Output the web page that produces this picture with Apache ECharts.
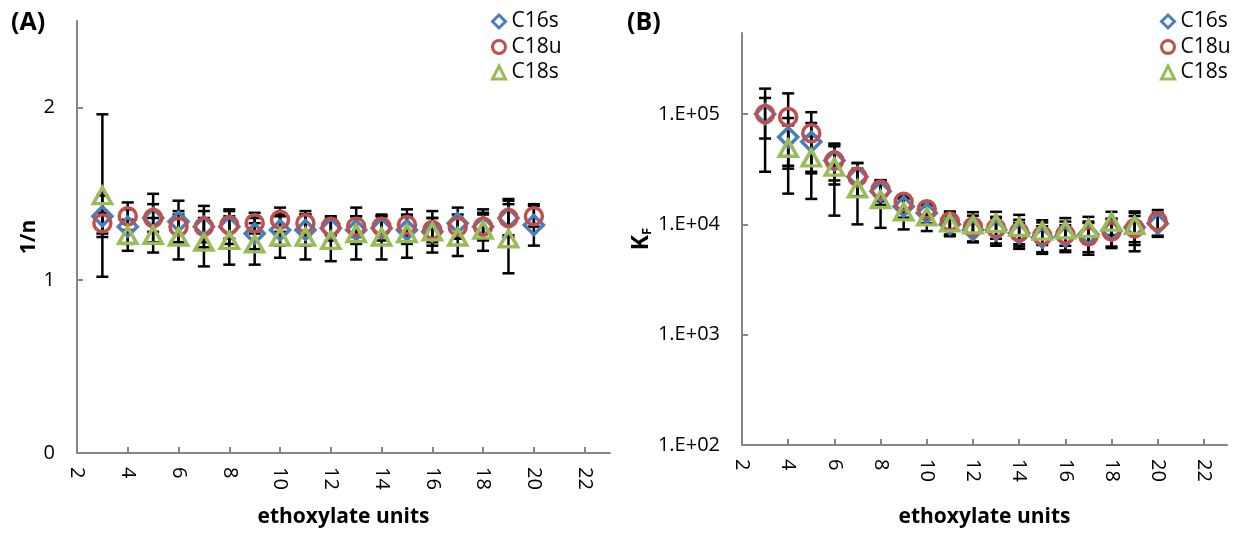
<!DOCTYPE html>
<html><head><meta charset="utf-8">
<script src="https://cdn.jsdelivr.net/npm/echarts@6/dist/echarts.min.js"></script>
<style>html,body{margin:0;padding:0;background:#fff}#c{width:1238px;height:533px}</style>
</head><body><div id="c"></div>
<script>
// ---------- data ----------
const units      = [3,4,5,6,7,8,9,10,11,12,13,14,15,16,17,18,19,20];
const unitsC18sA = [3,4,5,6,7,8,9,10,11,12,13,14,15,16,17,18,19];
const unitsC18sB = [4,5,6,7,8,9,10,11,12,13,14,15,16,17,18,19];
const xTicks     = [2,4,6,8,10,12,14,16,18,20,22];
const invnTicks  = [0,1,2];
const kfTicks    = [100,1000,10000,100000];

// Panel A: 1/n
const invnC16s    = [1.37,1.31,1.36,1.34,1.31,1.31,1.27,1.29,1.29,1.30,1.29,1.30,1.29,1.28,1.33,1.31,1.36,1.32];
const invnC16sErr = [0.12,0.10,0.14,0.12,0.12,0.10,0.09,0.09,0.09,0.07,0.08,0.07,0.08,0.08,0.09,0.08,0.11,0.12];
const invnC18u    = [1.33,1.37,1.36,1.31,1.31,1.32,1.33,1.35,1.33,1.31,1.31,1.31,1.32,1.29,1.31,1.31,1.36,1.37];
const invnC18uErr = [0.06,0.08,0.08,0.09,0.09,0.08,0.06,0.07,0.07,0.05,0.06,0.06,0.06,0.07,0.07,0.07,0.10,0.06];
const invnC18s    = [1.49,1.26,1.26,1.25,1.22,1.23,1.21,1.25,1.25,1.23,1.27,1.25,1.27,1.28,1.25,1.29,1.24];
const invnC18sErr = [0.47,0.09,0.10,0.13,0.14,0.14,0.12,0.12,0.13,0.12,0.15,0.13,0.14,0.12,0.11,0.12,0.20];

// Panel B: KF
const kfC16s    = [100000,62000,56000,38000,27000,20000,14500,12700,10000,8900,8900,8300,7600,7800,8100,8800,9400,10200];
const kfC16sErr = [40000,30000,27000,13000,9000,5000,3000,2500,2000,2000,2500,2000,2000,2000,2500,2500,2500,2500];
const kfC18u    = [100000,94000,67000,38000,27000,20700,16000,13700,10600,9500,9200,8500,7900,8100,7800,8600,9200,10700];
const kfC18uErr = [70000,60000,37000,15000,9000,4500,2000,1500,2500,2500,2500,2500,2500,2500,2500,2500,3500,2800];
const kfC18s    = [49000,40000,33000,21000,16800,13000,11700,10300,9900,10200,9400,8700,8900,9200,10500,9800];
const kfC18sErr = [30000,23000,21000,11000,7500,4000,3000,2500,3000,2800,2800,2200,2500,2500,2500,3300];

// ---------- chart ----------
const FONT = '"Open Sans", "DejaVu Sans", sans-serif';
const BLUE = '#4A7EBB', RED = '#C0504D', GREEN = '#9BBB59';
const AXIS = '#868686';

function pts(xs, ys) { return xs.map((x, i) => [x, ys[i]]); }
function errPts(xs, ys, es) { return xs.map((x, i) => [x, ys[i], es[i]]); }

function renderErr(params, api) {
  const x = api.value(0), y = api.value(1), e = api.value(2);
  const top = api.coord([x, y + e]);
  const bot = api.coord([x, y - e]);
  const hw = 6;
  const style = { stroke: '#000', lineWidth: 2.5, fill: null };
  return { type: 'group', children: [
    { type: 'line', shape: { x1: top[0], y1: top[1], x2: bot[0], y2: bot[1] }, style },
    { type: 'line', shape: { x1: top[0] - hw, y1: top[1], x2: top[0] + hw, y2: top[1] }, style },
    { type: 'line', shape: { x1: bot[0] - hw, y1: bot[1], x2: bot[0] + hw, y2: bot[1] }, style }
  ]};
}

function errSeries(idx, data, name) {
  return { type: 'custom', name, xAxisIndex: idx, yAxisIndex: idx, renderItem: renderErr,
           data, encode: { x: 0, y: 1 }, z: 1, silent: true, clip: false };
}
function markSeries(idx, name, data, symbol, size, color) {
  return { type: 'scatter', name, xAxisIndex: idx, yAxisIndex: idx, data, symbol, symbolSize: size, z: 3,
           itemStyle: { color: 'rgba(0,0,0,0)', borderColor: color, borderWidth: 3.5, opacity: 1 },
           emphasis: { disabled: true } };
}

function xAxisCfg(idx, gap) {
  return { type: 'value', gridIndex: idx, min: 2, max: 23,
    axisLine: { show: true, onZero: false, lineStyle: { color: AXIS, width: 2 } },
    axisTick: { show: true, inside: true, length: 6, lineStyle: { color: AXIS, width: 2 }, customValues: xTicks },
    axisLabel: { customValues: xTicks, rotate: -90, fontSize: 20, color: '#000', fontFamily: FONT, margin: 14 },
    splitLine: { show: false },
    name: 'ethoxylate units', nameLocation: 'middle', nameGap: gap,
    nameTextStyle: { fontSize: 21, fontWeight: 'bold', color: '#000', fontFamily: FONT } };
}

const legendData = [
  { name: 'C16s', icon: 'diamond',  itemStyle: { color: 'rgba(0,0,0,0)', borderColor: BLUE,  borderWidth: 3 } },
  { name: 'C18u', icon: 'circle',   itemStyle: { color: 'rgba(0,0,0,0)', borderColor: RED,   borderWidth: 3 } },
  { name: 'C18s', icon: 'triangle', itemStyle: { color: 'rgba(0,0,0,0)', borderColor: GREEN, borderWidth: 3 } }
];
function legendCfg(left) {
  return { data: legendData, orient: 'vertical', left, top: 11, padding: 0, itemGap: 4.5,
    itemWidth: 13, itemHeight: 13, selectedMode: false,
    textStyle: { fontSize: 21, color: '#000', fontFamily: FONT, lineHeight: 20, padding: [0, 0, 0, 1] } };
}

const option = {
  animation: false,
  textStyle: { fontFamily: FONT },
  grid: [
    { left: 77, top: 21, width: 533, height: 432, outerBoundsMode: 'none', containLabel: false },
    { left: 742, top: 33, width: 485, height: 412, outerBoundsMode: 'none', containLabel: false }
  ],
  xAxis: [ xAxisCfg(0, 54), xAxisCfg(1, 62) ],
  yAxis: [
    { type: 'value', gridIndex: 0, min: 0, max: 2.5,
      axisLine: { show: true, onZero: false, lineStyle: { color: AXIS, width: 2 } },
      axisTick: { show: true, inside: true, length: 6, lineStyle: { color: AXIS, width: 2 }, customValues: invnTicks },
      axisLabel: { customValues: invnTicks, fontSize: 20, color: '#000', fontFamily: FONT, margin: 22 },
      splitLine: { show: false },
      name: '1/n', nameLocation: 'middle', nameGap: 35,
      nameTextStyle: { fontSize: 21, fontWeight: 'bold', color: '#000', fontFamily: FONT } },
    { type: 'log', logBase: 10, gridIndex: 1, min: 100, max: 543000,
      axisLine: { show: true, onZero: false, lineStyle: { color: AXIS, width: 2 } },
      axisTick: { show: true, inside: true, length: 6, lineStyle: { color: AXIS, width: 2 }, customValues: kfTicks },
      axisLabel: { customValues: kfTicks, fontSize: 20, color: '#000', fontFamily: FONT, margin: 22,
        formatter: v => '1.E+' + String(Math.round(Math.log10(v))).padStart(2, '0') },
      splitLine: { show: false }, minorTick: { show: false },
      name: '{k|K}{f|F}', nameLocation: 'middle', nameGap: 78,
      nameTextStyle: { color: '#000', fontFamily: FONT,
        rich: { k: { fontSize: 23, fontWeight: 'bold', fontFamily: FONT, color: '#000' },
                f: { fontSize: 13, fontWeight: 'bold', fontFamily: FONT, color: '#000', padding: [12, 0, 0, 0] } } } }
  ],
  legend: [ legendCfg(491), legendCfg(1160) ],
  graphic: [
    { type: 'text', left: 11, top: 10, style: { text: '(A)', fontSize: 25, fontWeight: 'bold', fill: '#000', fontFamily: FONT } },
    { type: 'text', left: 627, top: 10, style: { text: '(B)', fontSize: 25, fontWeight: 'bold', fill: '#000', fontFamily: FONT } }
  ],
  series: [
    errSeries(0, errPts(units, invnC16s, invnC16sErr), 'errA1'),
    errSeries(0, errPts(units, invnC18u, invnC18uErr), 'errA2'),
    errSeries(0, errPts(unitsC18sA, invnC18s, invnC18sErr), 'errA3'),
    markSeries(0, 'C16s', pts(units, invnC16s), 'diamond', [19, 19], BLUE),
    markSeries(0, 'C18u', pts(units, invnC18u), 'circle', 17, RED),
    markSeries(0, 'C18s', pts(unitsC18sA, invnC18s), 'triangle', [18, 16], GREEN),
    errSeries(1, errPts(units, kfC16s, kfC16sErr), 'errB1'),
    errSeries(1, errPts(units, kfC18u, kfC18uErr), 'errB2'),
    errSeries(1, errPts(unitsC18sB, kfC18s, kfC18sErr), 'errB3'),
    markSeries(1, 'C16s', pts(units, kfC16s), 'diamond', [19, 19], BLUE),
    markSeries(1, 'C18u', pts(units, kfC18u), 'circle', 17, RED),
    markSeries(1, 'C18s', pts(unitsC18sB, kfC18s), 'triangle', [18, 16], GREEN)
  ]
};
echarts.init(document.getElementById('c'), null, { renderer: 'canvas' }).setOption(option);
</script></body></html>
